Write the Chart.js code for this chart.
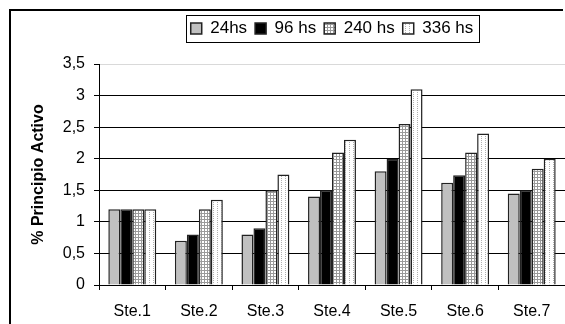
<!DOCTYPE html>
<html>
<head>
<meta charset="utf-8">
<script src="https://cdn.jsdelivr.net/npm/chart.js@4"></script>
<style>
  html, body { margin: 0; padding: 0; background: #fff; }
  canvas { display: block; }
</style>
</head>
<body>
<canvas id="chart" width="565" height="324"></canvas>
<script>
// Categories and series
const categories = ["Ste.1", "Ste.2", "Ste.3", "Ste.4", "Ste.5", "Ste.6", "Ste.7"];
const h24 = [1.2, 0.7, 0.8, 1.4, 1.8, 1.62, 1.45];
const h96 = [1.2, 0.8, 0.9, 1.5, 2.0, 1.74, 1.5];
const h240 = [1.2, 1.2, 1.5, 2.1, 2.55, 2.1, 1.84];
const h336 = [1.2, 1.35, 1.75, 2.3, 3.1, 2.4, 2.0];
const seriesNames = ["24hs", "96 hs", "240 hs", "336 hs"];
const yTickLabels = ["0", "0,5", "1", "1,5", "2", "2,5", "3", "3,5"];

const FONT = "'Liberation Sans', Arial, sans-serif";

// Fill patterns for the two last series
function gridPattern() {
  const c = document.createElement("canvas");
  c.width = 3; c.height = 3;
  const g = c.getContext("2d");
  g.fillStyle = "#fff";
  g.fillRect(0, 0, 3, 3);
  g.fillStyle = "#9a9a9a";
  g.fillRect(0, 0, 3, 1);
  g.fillRect(0, 0, 1, 3);
  return g.createPattern(c, "repeat");
}

function dotPattern() {
  const c = document.createElement("canvas");
  c.width = 4; c.height = 2;
  const g = c.getContext("2d");
  g.fillStyle = "#fff";
  g.fillRect(0, 0, 4, 2);
  g.fillStyle = "#b0b0b0";
  g.fillRect(1, 0, 1, 1);
  return g.createPattern(c, "repeat");
}

// Outer frame (top and left edges visible in the crop)
const framePlugin = {
  id: "frame",
  beforeDraw(chart) {
    const ctx = chart.ctx;
    ctx.save();
    ctx.fillStyle = "#000";
    ctx.fillRect(9, 9, 554, 2);
    ctx.fillRect(9, 9, 2, 315);
    ctx.restore();
  }
};

// Legend: extra room below, centred over plot area, boxed
const legendPlugin = {
  id: "legendBox",
  beforeInit(chart) {
    const fit = chart.legend.fit;
    chart.legend.fit = function () {
      fit.bind(chart.legend)();
      this.height += 17;
    };
  },
  afterLayout(chart) {
    const lg = chart.legend;
    lg.left = chart.chartArea.left;
    lg.right = chart.chartArea.right;
    lg.width = lg.right - lg.left;
  },
  afterDraw(chart) {
    const boxes = chart.legend.legendHitBoxes;
    if (!boxes || !boxes.length) return;
    const first = boxes[0];
    const last = boxes[boxes.length - 1];
    const ctx = chart.ctx;
    ctx.save();
    ctx.strokeStyle = "#000";
    ctx.lineWidth = 1;
    const x0 = Math.round(first.left - 5) + 0.5;
    const x1 = Math.round(last.left + last.width + 6) + 0.5;
    const y0 = Math.round(first.top - 5) + 0.5;
    const y1 = Math.round(first.top + first.height + 5) + 0.5;
    ctx.strokeRect(x0, y0, x1 - x0, y1 - y0);
    ctx.restore();
  }
};

const ctx = document.getElementById("chart").getContext("2d");
new Chart(ctx, {
  type: "bar",
  data: {
    labels: categories,
    datasets: [
      { label: seriesNames[0], data: h24, backgroundColor: "#c0c0c0" },
      { label: seriesNames[1], data: h96, backgroundColor: "#000" },
      { label: seriesNames[2], data: h240, backgroundColor: gridPattern() },
      { label: seriesNames[3], data: h336, backgroundColor: dotPattern() }
    ].map(d => Object.assign(d, { borderColor: "#222", borderWidth: 1.5 }))
  },
  options: {
    responsive: false,
    animation: false,
    devicePixelRatio: 1,
    categoryPercentage: 0.72,
    barPercentage: 1,
    layout: { padding: { top: 12, left: 25, right: 0, bottom: 0 } },
    plugins: {
      tooltip: { enabled: false },
      legend: {
        position: "top",
        labels: {
          boxWidth: 11,
          boxHeight: 11,
          padding: 8,
          color: "#000",
          font: { family: FONT, size: 17 }
        }
      }
    },
    scales: {
      x: {
        offset: true,
        grid: { offset: true, drawOnChartArea: false, color: "#000", tickLength: 5 },
        border: { color: "#000", width: 1 },
        ticks: { color: "#000", padding: 12, font: { family: FONT, size: 16 } },
        afterFit(scale) { scale.height = 39; }
      },
      y: {
        min: 0,
        max: 3.5,
        grid: {
          color: c => (c.tick && c.tick.value === 3.5 ? "#d9d9d9" : "#000"),
          tickColor: "#000",
          tickLength: 5
        },
        border: { color: "#000", width: 1 },
        ticks: {
          stepSize: 0.5,
          color: "#000",
          padding: 9,
          font: { family: FONT, size: 16 },
          callback: (v, i) => yTickLabels[i]
        },
        title: {
          display: true,
          text: "% Principio Activo",
          color: "#000",
          font: { family: FONT, size: 16, weight: "bold" }
        },
        afterFit(scale) { scale.width = 74; }
      }
    }
  },
  plugins: [framePlugin, legendPlugin]
});
</script>
</body>
</html>
